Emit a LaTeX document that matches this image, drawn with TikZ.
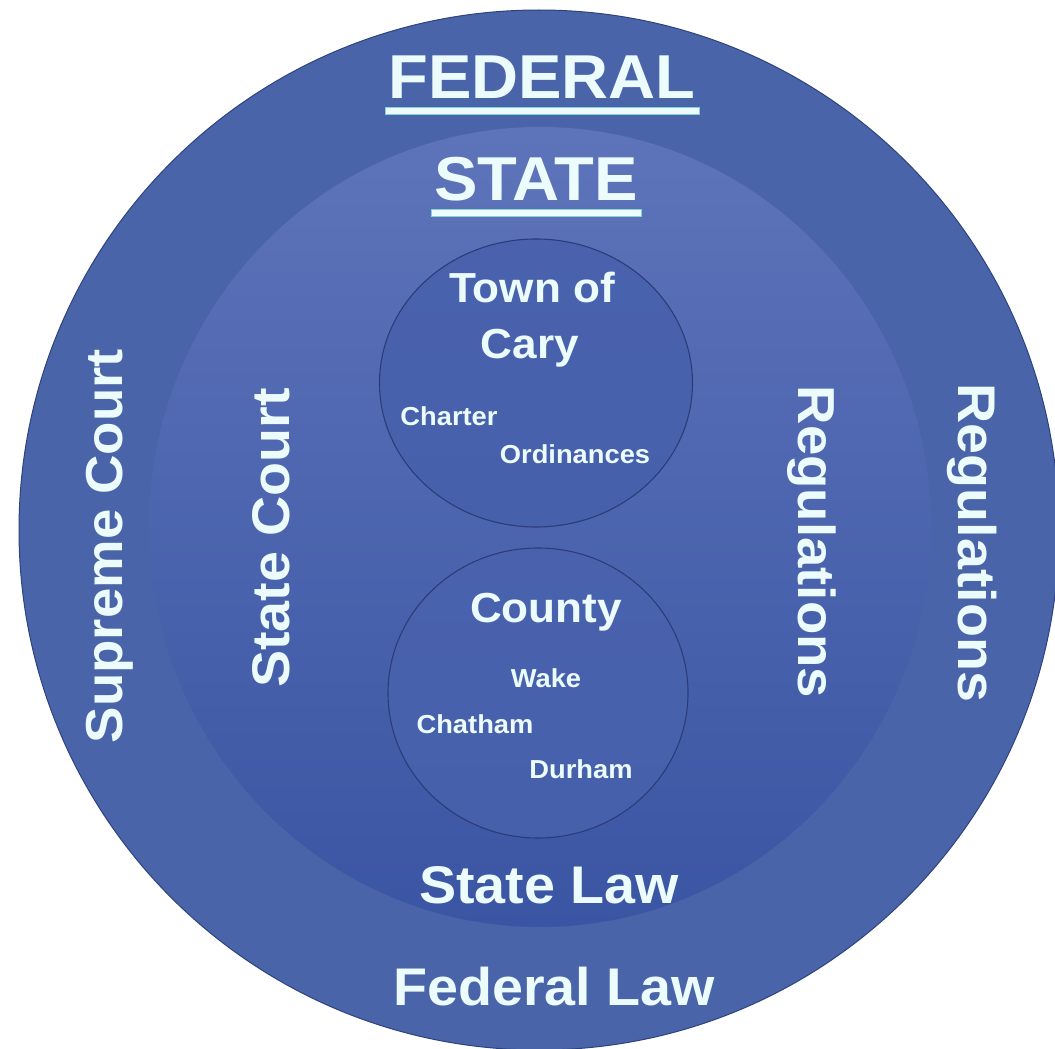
\documentclass[tikz,border=0pt]{standalone}
\usepackage{fontspec}
\setmainfont[FakeStretch=1.05]{Liberation Sans}
\usetikzlibrary{calc,shapes.geometric}
\definecolor{outerc}{HTML}{4A64AA}
\definecolor{ringline}{HTML}{2E437E}
\definecolor{stateTop}{HTML}{5E74BA}
\definecolor{stateBot}{HTML}{3A55A3}
\definecolor{innerTop}{HTML}{4A62AE}
\definecolor{innerBot}{HTML}{4660AC}
\definecolor{innerline}{HTML}{2C3C78}
\definecolor{textc}{HTML}{ECFCFC}
\definecolor{haloc}{HTML}{86D2DA}
\tikzset{
  txt/.style={inner sep=0pt, text=textc, anchor=base},
  vtxt/.style={inner sep=0pt, text=textc, anchor=center},
  fs/.style={font=\fontsize{#1}{#1}\selectfont\bfseries},
  ring/.style={circle, inner sep=0pt, draw=ringline, line width=1pt},
  innercirc/.style={ellipse, inner sep=0pt, draw=innerline, line width=1.1pt,
    top color=innerTop, bottom color=innerBot},
  uline/.style={haloc, line width=8.5pt},
  ulinein/.style={textc, line width=5.5pt},
}
\begin{document}
\begin{tikzpicture}[x=1pt,y=-1pt]
\useasboundingbox (0,0) rectangle (1055,1049);
\clip (0,0) rectangle (1055,1049);
\fill[white] (0,0) rectangle (1055,1049);
% circles
\node[ring, fill=outerc, minimum size=1040pt] (federal) at (539,530) {};
\node[ellipse, inner sep=0pt, minimum width=782pt, minimum height=800pt,
      top color=stateTop, bottom color=stateBot] (state) at (540,527) {};
\node[innercirc, minimum width=313pt, minimum height=288pt] (town) at (536,383) {};
\node[innercirc, minimum width=300pt, minimum height=290pt] (county) at (538,693) {};
% texts
\node[txt,fs=62] (tfed) at (542,99) {FEDERAL};
\node[txt,fs=62] (tstate) at (536,200) {STATE};
\node[txt,fs=42] (ttown) at (532,302) {Town of};
\node[txt,fs=42] (tcary) at (530,358) {Cary};
\node[txt,fs=26] (tcharter) at (449,425) {Charter};
\node[txt,fs=26] (tord) at (575,463) {Ordinances};
\node[txt,fs=42] (tcounty) at (546,622) {County};
\node[txt,fs=26] (twake) at (546,687) {Wake};
\node[txt,fs=26] (tchatham) at (475,733) {Chatham};
\node[txt,fs=26] (tdurham) at (581,778) {Durham};
\node[txt,fs=53] (tstatelaw) at (549,903) {State Law};
\node[txt,fs=53] (tfedlaw) at (554,1005) {Federal Law};
\node[vtxt,rotate=90,fs=52] (tsupreme) at (110,546) {Supreme Court};
\node[vtxt,rotate=90,fs=53] (tstatecourt) at (271,538) {State Court};
\node[vtxt,rotate=-90,fs=52] (treg) at (812,542) {Regulations};
\node[vtxt,rotate=-90,fs=53] (tfedreg) at (972,543) {Regulations};
% underlines
\draw[uline] ($(tfed.base west)+(-3,12)$) -- ($(tfed.base east)+(4,12)$);
\draw[ulinein] ($(tfed.base west)+(-2,12)$) -- ($(tfed.base east)+(3,12)$);
\draw[uline] ($(tstate.base west)+(-3,13)$) -- ($(tstate.base east)+(4,13)$);
\draw[ulinein] ($(tstate.base west)+(-2,13)$) -- ($(tstate.base east)+(3,13)$);
\end{tikzpicture}
\end{document}
